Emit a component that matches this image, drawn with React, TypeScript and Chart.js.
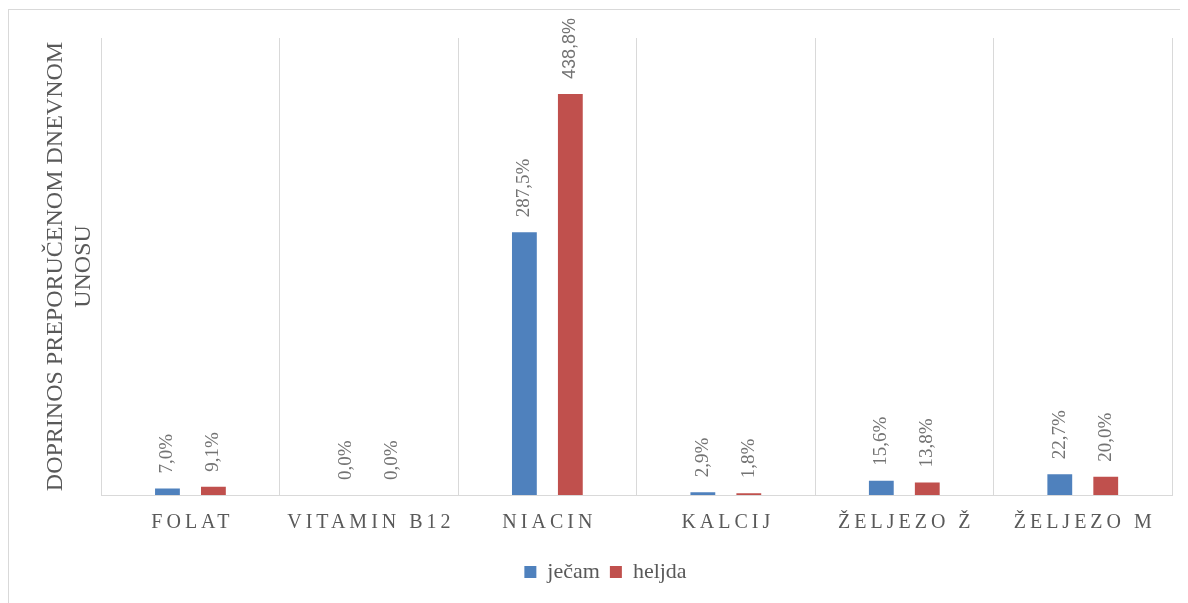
import React, { useEffect, useRef } from "react";
import { Chart, registerables } from "chart.js";

Chart.register(...registerables);

const categories = ["FOLAT", "VITAMIN B12", "NIACIN", "KALCIJ", "ŽELJEZO Ž", "ŽELJEZO M"];
const jecamValues = [7.0, 0.0, 287.5, 2.9, 15.6, 22.7];
const heljdaValues = [9.1, 0.0, 438.8, 1.8, 13.8, 20.0];
const seriesNames = ["ječam", "heljda"];
const yTitle = ["DOPRINOS PREPORUČENOM DNEVNOM", "UNOSU"];
const yMax = 500;

const SERIF = "'Liberation Serif', 'Times New Roman', serif";
const SANS = "'Liberation Sans', Arial, sans-serif";
const TEXT = "#595959";
const GRID = "#d9d9d9";

const fmt = (v: number) => v.toFixed(1).replace(".", ",") + "%";

const labelsPlugin = {
  id: "barValueLabels",
  afterDatasetsDraw(chart: any) {
    const ctx = chart.ctx;
    chart.data.datasets.forEach((ds: any, di: number) => {
      const meta = chart.getDatasetMeta(di);
      meta.data.forEach((bar: any, i: number) => {
        const v = ds.data[i];
        const txt = fmt(v);
        const big = v > 400;
        ctx.save();
        ctx.translate(bar.x, bar.y - 15);
        ctx.rotate(-Math.PI / 2);
        ctx.font = big ? `18px ${SANS}` : `19px ${SERIF}`;
        ctx.fillStyle = "#737373";
        ctx.textAlign = "left";
        ctx.textBaseline = "middle";
        ctx.fillText(txt, 0, 0);
        ctx.restore();
      });
    });
  },
};

const xLabelsPlugin = {
  id: "spacedXLabels",
  afterDraw(chart: any) {
    const ctx = chart.ctx;
    const xs = chart.scales.x;
    const spacing = 4;
    ctx.save();
    ctx.font = `20px ${SERIF}`;
    ctx.fillStyle = TEXT;
    ctx.textAlign = "center";
    ctx.textBaseline = "middle";
    (ctx as any).letterSpacing = `${spacing}px`;
    categories.forEach((c, i) => {
      const x = xs.getPixelForTick(i);
      ctx.fillText(c, x + spacing / 2, chart.chartArea.bottom + 28);
    });
    ctx.restore();
  },
};

export default function App() {
  const ref = useRef<HTMLCanvasElement>(null);
  useEffect(() => {
    if (!ref.current) return;
    const chart = new Chart(ref.current, {
      type: "bar",
      data: {
        labels: categories,
        datasets: [
          {
            label: seriesNames[0],
            data: jecamValues,
            backgroundColor: "#4F81BD",
            categoryPercentage: 0.515,
            barPercentage: 0.54,
          },
          {
            label: seriesNames[1],
            data: heljdaValues,
            backgroundColor: "#C0504D",
            categoryPercentage: 0.515,
            barPercentage: 0.54,
          },
        ],
      },
      options: {
        animation: false,
        responsive: false,
        maintainAspectRatio: false,
        layout: { padding: { left: 30, right: 16, top: 28, bottom: 10 } },
        plugins: {
          tooltip: { enabled: false },
          legend: {
            position: "bottom",
            labels: {
              boxWidth: 12,
              boxHeight: 12,
              padding: 10,
              color: TEXT,
              font: { family: SERIF, size: 22 },
            },
          },
        },
        scales: {
          x: {
            grid: { display: true, color: GRID, lineWidth: 1, drawTicks: false, offset: true },
            border: { display: true, color: GRID, width: 1 },
            ticks: { color: "transparent", padding: 16, font: { family: SERIF, size: 20 } },
          },
          y: {
            min: 0,
            max: yMax,
            grid: { display: false, drawTicks: false },
            border: { display: false },
            ticks: { display: false },
            title: {
              display: true,
              text: yTitle,
              color: TEXT,
              font: { family: SERIF, size: 24, lineHeight: 1.15 },
              padding: { top: 3, bottom: 4 },
            },
          },
        },
      },
      plugins: [labelsPlugin, xLabelsPlugin],
    });
    return () => chart.destroy();
  }, []);

  return (
    <div style={{ paddingTop: 1 }}>
      <div
        style={{
          borderLeft: `1px solid ${GRID}`,
          borderTop: `1px solid ${GRID}`,
          width: 1179,
          height: 593,
        }}
      >
        <canvas ref={ref} width={1179} height={593} style={{ display: "block" }} />
      </div>
    </div>
  );
}
